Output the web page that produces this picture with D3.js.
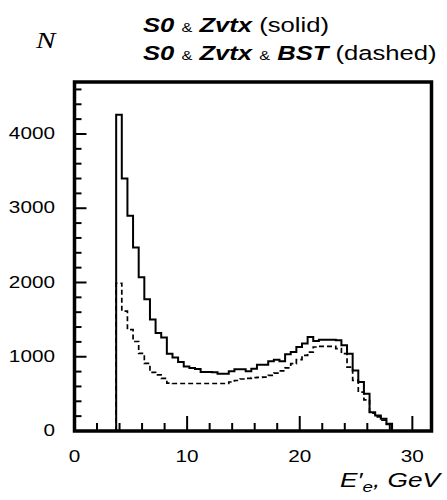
<!DOCTYPE html>
<html>
<head>
<meta charset="utf-8">
<script src="https://cdn.jsdelivr.net/npm/d3@7"></script>
<style>
  html, body { margin: 0; padding: 0; background: #fff; }
  text { font-family: 'Liberation Sans', Arial, sans-serif; fill: #000; }
</style>
</head>
<body>
<div id="chart"></div>
<script>
// Histogram binning (GeV)
var binStart = 3.7;
var binWidth = 0.5;

// S0 & Zvtx (solid)
var solidCounts = [
  4260, 3400, 2900, 2470, 2070, 1775, 1500, 1320, 1260, 1040,
  990, 930, 870, 850, 835, 795, 795, 790, 772, 772,
  803, 830, 830, 803, 840, 893, 893, 938, 960, 940,
  1032, 1063, 1131, 1177, 1266, 1212, 1230, 1230, 1230, 1221,
  1154, 1042, 816, 659, 502, 254, 209, 165, 97
];

// S0 & Zvtx & BST (dashed)
var dashedCounts = [
  1990, 1615, 1365, 1205, 1045, 910, 790, 755, 708, 645,
  640, 640, 640, 640, 640, 640, 640, 640, 640, 640,
  660, 680, 700, 710, 718, 722, 726, 749, 780, 810,
  850, 907, 961, 1019, 1063, 1131, 1140, 1140, 1140, 1109,
  1042, 861, 681, 524, 420, 240, 190, 145, 88
];

var xTicks = [0, 10, 20, 30];
var yTicks = [0, 1000, 2000, 3000, 4000];

var width = 447;
var height = 500;
var margin = { top: 82, right: 15.5, bottom: 69, left: 74.5 };
var sx = 1.22; // the original is stretched horizontally

var x = d3.scaleLinear().domain([0, 31.7]).range([margin.left, width - margin.right]);
var y = d3.scaleLinear().domain([0, 4700]).range([height - margin.bottom, margin.top]);

var svg = d3.select('#chart')
  .append('svg')
  .attr('width', width)
  .attr('height', height);

// Build a step outline for a histogram
function histPoints(counts) {
  var pts = [[binStart, 0]];
  counts.forEach(function (c, i) {
    pts.push([binStart + i * binWidth, c]);
  });
  pts.push([binStart + counts.length * binWidth, 0]);
  return pts;
}

var line = d3.line()
  .x(function (d) { return x(d[0]); })
  .y(function (d) { return y(d[1]); })
  .curve(d3.curveStepAfter);

svg.append('path')
  .attr('d', line(histPoints(dashedCounts)))
  .attr('fill', 'none')
  .attr('stroke', '#000')
  .attr('stroke-width', 1.7)
  .attr('stroke-dasharray', '5,3');

svg.append('path')
  .attr('d', line(histPoints(solidCounts)))
  .attr('fill', 'none')
  .attr('stroke', '#000')
  .attr('stroke-width', 2);

// Ticks (inward)
var g = svg.append('g').attr('stroke', '#000').attr('stroke-width', 2);
d3.range(0, 4700, 200).forEach(function (v) {
  var major = v % 1000 === 0;
  g.append('line')
    .attr('x1', x(0)).attr('x2', x(0) + (major ? 12 : 7))
    .attr('y1', y(v)).attr('y2', y(v));
});
d3.range(0, 31.7, 2).forEach(function (v) {
  var major = v % 10 === 0;
  g.append('line')
    .attr('x1', x(v)).attr('x2', x(v))
    .attr('y1', y(0)).attr('y2', y(0) - (major ? 15 : 8));
});

// Frame
svg.append('rect')
  .attr('x', x(0))
  .attr('y', y(4700))
  .attr('width', x(31.7) - x(0))
  .attr('height', y(0) - y(4700))
  .attr('fill', 'none')
  .attr('stroke', '#000')
  .attr('stroke-width', 3.5);

// Tick labels
yTicks.forEach(function (v) {
  svg.append('text')
    .attr('transform', 'translate(55,' + (y(v) - 1) + ') scale(' + sx + ',1)')
    .attr('dy', '0.36em')
    .attr('text-anchor', 'end')
    .attr('font-size', 17)
    .text(v);
});
xTicks.forEach(function (v) {
  svg.append('text')
    .attr('transform', 'translate(' + x(v) + ',462) scale(' + sx + ',1)')
    .attr('text-anchor', 'middle')
    .attr('font-size', 17)
    .text(v);
});

// Y axis title
svg.append('text')
  .attr('transform', 'translate(36,48) scale(' + sx + ',1)')
  .attr('font-style', 'italic')
  .attr('font-size', 24)
  .style('font-family', "'Liberation Serif', 'Times New Roman', serif")
  .text('N');

// Legend lines
function legendLine(yPos, parts) {
  var t = svg.append('text')
    .attr('transform', 'translate(143,' + yPos + ') scale(1.25,1)')
    .attr('font-size', 20.5);
  parts.forEach(function (p) {
    var s = t.append('tspan').text(p.text);
    if (p.bold) s.attr('font-weight', 'bold').attr('font-style', 'italic');
    if (p.small) s.attr('font-size', 13);
  });
}
legendLine(32, [
  { text: 'S0', bold: true }, { text: ' ' }, { text: '&', small: true }, { text: ' ' },
  { text: 'Zvtx', bold: true }, { text: ' (solid)' }
]);
legendLine(60, [
  { text: 'S0', bold: true }, { text: ' ' }, { text: '&', small: true }, { text: ' ' },
  { text: 'Zvtx', bold: true }, { text: ' ' }, { text: '&', small: true }, { text: ' ' },
  { text: 'BST', bold: true }, { text: ' (dashed)' }
]);

// X axis title
var xt = svg.append('text')
  .attr('transform', 'translate(440,487) scale(1.25,1)')
  .attr('text-anchor', 'end')
  .attr('font-size', 21)
  .attr('font-style', 'italic');
xt.append('tspan').text('E\u2032');
xt.append('tspan').attr('font-size', 15).attr('dy', 5).text('e');
xt.append('tspan').attr('dy', -5).text(', GeV');
</script>
</body>
</html>
